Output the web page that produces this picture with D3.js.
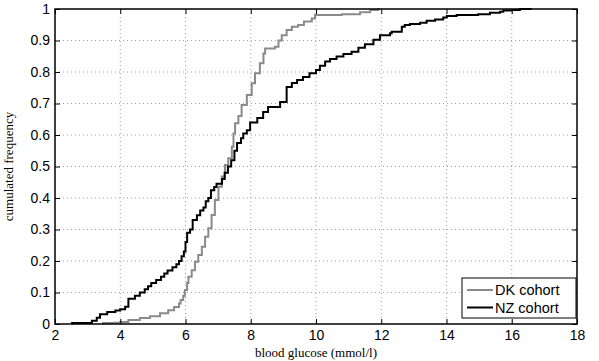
<!DOCTYPE html>
<html>
<head>
<meta charset="utf-8">
<script src="https://cdn.jsdelivr.net/npm/d3@7"></script>
<style>
	body {margin:0; background:#fff;}
	.tick text {font-family:"Liberation Sans", Arial, sans-serif; font-size:14px; fill:#000;}
	.lbl {font-family:"Liberation Serif", "Times New Roman", serif; font-size:13px; fill:#000;}
	.leg {font-family:"Liberation Sans", Arial, sans-serif; font-size:14.5px; fill:#000;}
</style>
</head>
<body>
<svg id="chart" width="599" height="361"></svg>
<script>
//ticks
var xTicks = [2,4,6,8,10,12,14,16,18];
var yTicks = [0,0.1,0.2,0.3,0.4,0.5,0.6,0.7,0.8,0.9,1];

//DK cohort : step positions (mmol/l) and cumulated frequency after each step
var dkGlucose = [3.47,3.8,4.0,4.25,4.6,4.91,5.22,5.47,5.65,5.8,5.85,5.93,5.98,6.05,6.09,6.19,6.29,6.39,6.5,6.6,6.7,6.8,6.9,7.01,7.11,7.21,7.31,7.42,7.47,7.52,7.62,7.72,7.88,8.03,8.13,8.28,8.39,8.44,8.74,8.85,8.95,9.1,9.26,9.45,9.63,9.87,9.97,10.79,11.35,11.66,11.9,11.96];
var dkFreq    = [0.003,0.004,0.006,0.013,0.019,0.025,0.034,0.044,0.054,0.065,0.076,0.09,0.108,0.13,0.15,0.171,0.198,0.219,0.245,0.277,0.304,0.346,0.394,0.436,0.468,0.505,0.526,0.563,0.605,0.637,0.66,0.695,0.727,0.764,0.796,0.828,0.859,0.875,0.88,0.9,0.917,0.933,0.944,0.949,0.96,0.97,0.981,0.983,0.99,0.997,1.0,1.0];

//NZ cohort
var nzGlucose = [2.52,3.13,3.28,3.38,3.6,3.85,4.0,4.15,4.25,4.45,4.6,4.75,4.85,4.95,5.1,5.25,5.35,5.45,5.6,5.72,5.8,5.88,5.95,6.0,6.05,6.14,6.22,6.35,6.45,6.55,6.62,6.7,6.78,6.88,6.95,7.12,7.2,7.3,7.4,7.5,7.58,7.7,7.77,7.88,7.98,8.2,8.38,8.53,8.9,9.1,9.26,9.42,9.6,9.8,10.0,10.12,10.28,10.43,10.63,10.84,11.09,11.3,11.5,11.76,11.96,12.27,12.32,12.63,12.72,12.88,13.19,13.39,13.65,13.9,14.01,14.31,14.97,15.33,15.64,15.74,16.0,16.25,16.61];
var nzFreq    = [0.003,0.01,0.02,0.031,0.038,0.043,0.047,0.055,0.08,0.09,0.10,0.11,0.12,0.13,0.14,0.15,0.16,0.17,0.18,0.19,0.2,0.215,0.23,0.26,0.29,0.30,0.33,0.345,0.36,0.37,0.39,0.40,0.425,0.435,0.445,0.46,0.48,0.50,0.52,0.55,0.575,0.59,0.605,0.615,0.64,0.654,0.673,0.689,0.705,0.752,0.765,0.775,0.784,0.796,0.806,0.82,0.833,0.841,0.849,0.857,0.864,0.877,0.888,0.902,0.917,0.923,0.928,0.944,0.949,0.952,0.956,0.963,0.967,0.973,0.978,0.981,0.983,0.988,0.991,0.995,0.997,1.0,1.0];

var seriesNames = ['DK cohort','NZ cohort'];
var seriesColors = ['#8a8a8a','#000'];

var margin = {top: 9, right: 22, bottom: 37, left: 55};
var width = 599 - margin.left - margin.right;
var height = 361 - margin.top - margin.bottom;

var svg = d3.select('#chart');
var g = svg.append('g').attr('transform','translate('+margin.left+','+margin.top+')');

var x = d3.scaleLinear().domain([2,18]).range([0,width]);
var y = d3.scaleLinear().domain([0,1]).range([height,0]);

//dotted grid
g.append('g').selectAll('line').data(xTicks.slice(1,-1)).enter().append('line')
	.attr('x1',function(d){return x(d);}).attr('x2',function(d){return x(d);})
	.attr('y1',0).attr('y2',height)
	.attr('stroke','#a0a0a0').attr('stroke-dasharray','1,3');
g.append('g').selectAll('line').data(yTicks.slice(1,-1)).enter().append('line')
	.attr('y1',function(d){return y(d);}).attr('y2',function(d){return y(d);})
	.attr('x1',0).attr('x2',width)
	.attr('stroke','#a0a0a0').attr('stroke-dasharray','1,3');

//step curves
function toPoints(xs,ys) {
	var pts = [];
	for (var i in xs)
		pts.push([xs[i],ys[i]]);
	return pts;
}
var line = d3.line()
	.x(function(d){return x(d[0]);})
	.y(function(d){return y(d[1]);})
	.curve(d3.curveStepAfter);

var series = [toPoints(dkGlucose,dkFreq), toPoints(nzGlucose,nzFreq)];
//start each curve on the zero line
series[0].unshift([dkGlucose[0]-0.0001,0]);
series[1].unshift([nzGlucose[0]-0.0001,0]);
series.forEach(function(s,i){
	g.append('path').datum(s)
		.attr('fill','none')
		.attr('stroke',seriesColors[i])
		.attr('stroke-width',2)
		.attr('d',line);
});

//axes, ticks inside on all 4 sides (matlab style)
var tl = 5;
g.append('g').attr('class','axis').attr('transform','translate(0,'+height+')')
	.call(d3.axisBottom(x).tickValues(xTicks).tickSize(-tl).tickPadding(6).tickFormat(d3.format('d')));
g.append('g').attr('class','axis')
	.call(d3.axisLeft(y).tickValues(yTicks).tickSize(-tl).tickPadding(5).tickFormat(function(d){return d===0||d===1?d:d3.format('.1f')(d);}));
g.append('g').attr('class','axis')
	.call(d3.axisTop(x).tickValues(xTicks).tickSize(-tl).tickFormat(''));
g.append('g').attr('class','axis').attr('transform','translate('+width+',0)')
	.call(d3.axisRight(y).tickValues(yTicks).tickSize(-tl).tickFormat(''));
g.selectAll('.axis .domain').remove();
g.selectAll('.axis line').attr('stroke','#000');

//box
g.append('rect').attr('width',width).attr('height',height)
	.attr('fill','none').attr('stroke','#000').attr('stroke-width',1.5);

//labels
svg.append('text').attr('class','lbl')
	.attr('x',margin.left+width/2).attr('y',357)
	.attr('text-anchor','middle').text('blood glucose (mmol/l)');
svg.append('text').attr('class','lbl')
	.attr('transform','translate(13,'+(margin.top+height/2)+') rotate(-90)')
	.attr('text-anchor','middle').text('cumulated frequency');

//legend
var leg = svg.append('g').attr('transform','translate(462,278)');
leg.append('rect').attr('width',114).attr('height',40)
	.attr('fill','#fff').attr('stroke','#000').attr('stroke-width',1);
seriesNames.forEach(function(name,i){
	var yy = 12 + i*17.5;
	leg.append('line').attr('x1',5).attr('x2',31).attr('y1',yy).attr('y2',yy)
		.attr('stroke',seriesColors[i]).attr('stroke-width',2);
	leg.append('text').attr('class','leg').attr('x',33).attr('y',yy+5).text(name);
});
</script>
</body>
</html>
